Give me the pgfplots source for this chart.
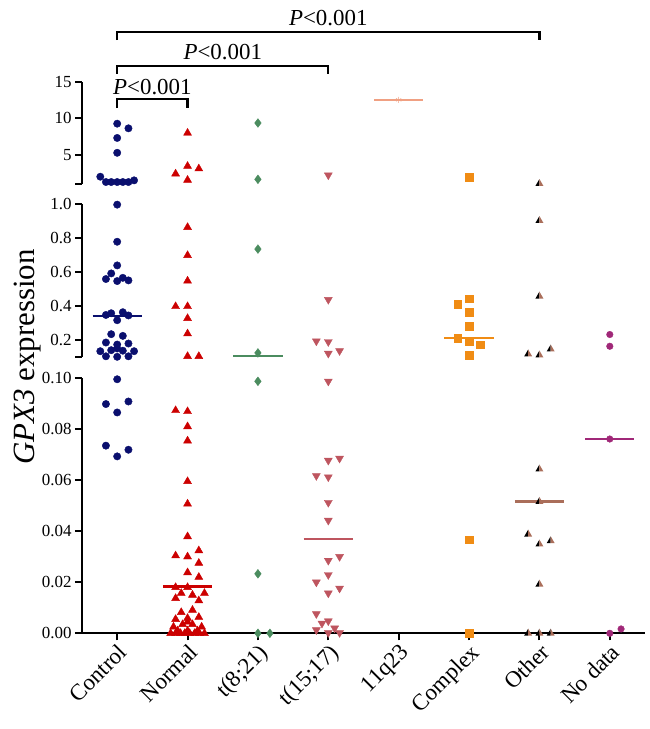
\documentclass[border=0pt]{standalone}
\usepackage{fontspec}
\setmainfont{Liberation Serif}
\usepackage{pgfplots}
\pgfplotsset{compat=1.18}
\definecolor{ctrl}{RGB}{10,15,110}
\definecolor{normal}{RGB}{204,0,0}
\definecolor{teight}{RGB}{75,140,95}
\definecolor{tfifteen}{RGB}{190,85,95}
\definecolor{qq}{RGB}{240,160,130}
\definecolor{complex}{RGB}{240,140,20}
\definecolor{otherb}{RGB}{170,110,90}
\definecolor{nodata}{RGB}{160,40,120}
\pgfdeclareplotmark{halftri}{%
  \pgfpathmoveto{\pgfqpoint{0pt}{\pgfplotmarksize}}%
  \pgfpathlineto{\pgfqpoint{-0.866\pgfplotmarksize}{-0.5\pgfplotmarksize}}%
  \pgfpathlineto{\pgfqpoint{0pt}{-0.5\pgfplotmarksize}}%
  \pgfpathclose
  \pgfsetfillcolor{black}\pgfusepathqfill
  \pgfpathmoveto{\pgfqpoint{0pt}{\pgfplotmarksize}}%
  \pgfpathlineto{\pgfqpoint{0.866\pgfplotmarksize}{-0.5\pgfplotmarksize}}%
  \pgfpathlineto{\pgfqpoint{0pt}{-0.5\pgfplotmarksize}}%
  \pgfpathclose
  \pgfsetfillcolor{otherb}\pgfusepathqfill
}
\pgfplotsset{
  seg/.style={scale only axis, width=563bp, xmin=-0.5, xmax=7.5, clip=false,
    axis line style={line width=2bp}, every tick/.style={black, line width=2bp},
    tick align=outside, major tick length=7bp,
    tick label style={font=\fontsize{17}{17}\selectfont},
    /pgf/number format/assume math mode=true},
  cM/.style={only marks, mark=*, mark size=3.7bp, color=ctrl},
  nM/.style={only marks, mark=triangle*, mark size=4.6bp, color=normal},
  eM/.style={only marks, mark=diamond*, mark size=4.4bp, color=teight},
  fM/.style={only marks, mark=triangle*, mark size=4.6bp, color=tfifteen, mark options={rotate=180}},
  qM/.style={only marks, mark=asterisk, mark size=3bp, color=qq},
  xM/.style={only marks, mark=square*, mark size=3.8bp, color=complex},
  oM/.style={only marks, mark=halftri, mark size=4.6bp},
  dM/.style={only marks, mark=*, mark size=3.3bp, color=nodata},
  med/.style={no marks, line width=2.5bp},
}
\begin{document}
\begin{tikzpicture}
\useasboundingbox (0,0) rectangle (650bp,729bp);
% ---------------- bottom segment 0 - 0.10
\begin{axis}[seg, at={(82bp,95.7bp)}, anchor=south west, height=255.3bp,
  ymin=0, ymax=0.1, axis x line*=bottom, axis y line*=left,
  ytick={0,0.02,0.04,0.06,0.08,0.1}, yticklabels={0.00,0.02,0.04,0.06,0.08,0.10},
  xtick={0,1,2,3,4,5,6,7},
  xticklabels={Control,Normal,{t(8;21)},{t(15;17)},11q23,Complex,Other,No data},
  x tick label style={rotate=45, anchor=north east, font=\fontsize{23}{23}\selectfont, inner sep=1.5bp}]
\addplot[cM] coordinates {(0,0.0995) (-0.16,0.0898) (0.16,0.0908) (0,0.0865) (-0.16,0.0735) (0.16,0.0719) (0,0.0693)};
\addplot[nM] coordinates {(0.83,0.0873) (1,0.0869) (1,0.081) (1,0.0754) (1,0.0595) (1,0.0507) (1,0.0379)
 (0.83,0.0304) (1,0.030) (1.16,0.0324) (1.16,0.0275) (1,0.0238) (1.16,0.022) (0.83,0.018) (1,0.018)
 (0.91,0.0157) (1.07,0.015) (1.24,0.0157) (0.83,0.0137) (1.16,0.0128) (0.91,0.0082) (1.07,0.0091)
 (0.83,0.0055) (1,0.0059) (1.16,0.0063) (0.8,0.0025) (0.93,0.0035) (1,0.0045) (1.07,0.0035) (1.2,0.0025)
 (0.76,0) (0.83,0) (0.9,0) (0.96,0) (1.03,0) (1.1,0) (1.17,0) (1.24,0) (1,0.001) (0.86,0.001) (1.14,0.001)};
\addplot[med, normal] coordinates {(0.65,0.0183) (1.35,0.0183)};
\addplot[eM] coordinates {(2,0.0987) (2,0.0233) (2,0) (2.17,0)};
\addplot[fM] coordinates {(3,0.0987) (3,0.0677) (3.16,0.0685) (2.83,0.0617) (3,0.0612) (3,0.0512) (3,0.0442)
 (3,0.0285) (3.16,0.030) (3,0.0229) (2.83,0.020) (3,0.0157) (3.16,0.0176) (2.83,0.0076) (2.91,0.0039)
 (3,0.0048) (2.83,0.0013) (3.09,0.002) (3,0.0002) (3.16,0.0002)};
\addplot[med, tfifteen] coordinates {(2.65,0.0369) (3.35,0.0369)};
\addplot[xM] coordinates {(5,0.0366) (5,0)};
\addplot[oM] coordinates {(6,0.0643) (6,0.0516) (5.84,0.0388) (6,0.0349) (6.16,0.0362) (6,0.0192) (5.84,0) (6,0) (6.16,0)};
\addplot[med, otherb] coordinates {(5.65,0.0516) (6.35,0.0516)};
\addplot[med, nodata] coordinates {(6.65,0.0761) (7.35,0.0761)};
\addplot[dM] coordinates {(7,0.0761) (7.16,0.0017) (7,0)};
\end{axis}
% ---------------- middle segment 0.1 - 1.0
\begin{axis}[seg, at={(82bp,371.5bp)}, anchor=south west, height=153.2bp,
  ymin=0.1, ymax=1.0, axis x line=none, axis y line*=left, xtick=\empty,
  ytick={0.1,0.2,0.4,0.6,0.8,1.0}, yticklabels={,0.2,0.4,0.6,0.8,1.0}]
\addplot[med, ctrl] coordinates {(-0.35,0.345) (0.35,0.345)};
\addplot[cM] coordinates {(0,0.998) (0,0.78) (0,0.641) (-0.085,0.594) (-0.16,0.561) (0.08,0.568) (0,0.549) (0.16,0.553)
 (-0.16,0.35) (-0.085,0.36) (0.08,0.366) (0.16,0.347) (0,0.319) (-0.085,0.237) (0.08,0.227) (-0.16,0.188)
 (0,0.176) (0.16,0.182) (0,0.153) (-0.24,0.137) (-0.085,0.143) (0.08,0.140) (0.24,0.137) (-0.16,0.107) (0,0.104) (0.16,0.107)};
\addplot[nM] coordinates {(1,0.865) (1,0.70) (1,0.55) (0.83,0.40) (1,0.40) (1,0.33) (1,0.24) (1,0.107) (1.16,0.107)};
\addplot[med, teight] coordinates {(1.65,0.11) (2.35,0.11)};
\addplot[eM] coordinates {(2,0.737) (2,0.127)};
\addplot[fM] coordinates {(3,0.44) (2.83,0.196) (3,0.192) (3,0.124) (3.16,0.139)};
\addplot[med, complex] coordinates {(4.65,0.215) (5.35,0.215)};
\addplot[xM] coordinates {(5,0.445) (4.84,0.412) (5,0.365) (5,0.284) (4.84,0.215) (5,0.192) (5.16,0.176) (5,0.112)};
\addplot[oM] coordinates {(6,0.904) (6,0.46) (5.84,0.12) (6,0.114) (6.16,0.149)};
\addplot[dM] coordinates {(7,0.235) (7,0.166)};
\end{axis}
% ---------------- top segment 1 - 15
\begin{axis}[seg, at={(82bp,545bp)}, anchor=south west, height=102bp,
  ymin=1, ymax=15, axis x line=none, axis y line*=left, xtick=\empty,
  ytick={1,5,10,15}, yticklabels={,5,10,15}]
\addplot[cM] coordinates {(0,9.28) (0.16,8.64) (0,7.32) (0,5.28) (-0.24,2.0) (-0.16,1.27) (-0.085,1.27) (0,1.27) (0.08,1.27) (0.16,1.27) (0.24,1.5)};
\addplot[nM] coordinates {(1,8.0) (1,3.45) (1.16,3.1) (0.83,2.4) (1,1.54)};
\addplot[eM] coordinates {(2,9.37) (2,1.64)};
\addplot[fM] coordinates {(3,2.22)};
\addplot[med, qq] coordinates {(3.65,12.55) (4.35,12.55)};
\addplot[qM] coordinates {(4,12.55)};
\addplot[xM] coordinates {(5,1.95)};
\addplot[oM] coordinates {(6,1.05)};
% significance brackets
\draw[line width=2.2bp] (axis cs:0,11.43) -- (axis cs:0,12.667) -- (axis cs:1,12.667) -- (axis cs:1,11.43);
\node[anchor=base, inner sep=0pt, font=\fontsize{23}{23}\selectfont] at (axis cs:0.5,13.35) {\textit{P}<0.001};
\draw[line width=2.2bp] (axis cs:0,16.10) -- (axis cs:0,17.196) -- (axis cs:3,17.196) -- (axis cs:3,16.10);
\node[anchor=base, inner sep=0pt, font=\fontsize{23}{23}\selectfont] at (axis cs:1.5,18.02) {\textit{P}<0.001};
\draw[line width=2.2bp] (axis cs:0,20.76) -- (axis cs:0,21.86) -- (axis cs:6,21.86) -- (axis cs:6,20.76);
\node[anchor=base, inner sep=0pt, font=\fontsize{23}{23}\selectfont] at (axis cs:3,22.69) {\textit{P}<0.001};
\end{axis}
\node[rotate=90, font=\fontsize{31}{31}\selectfont] at (28bp,372bp) {\textit{GPX3} expression};
\end{tikzpicture}
\end{document}
